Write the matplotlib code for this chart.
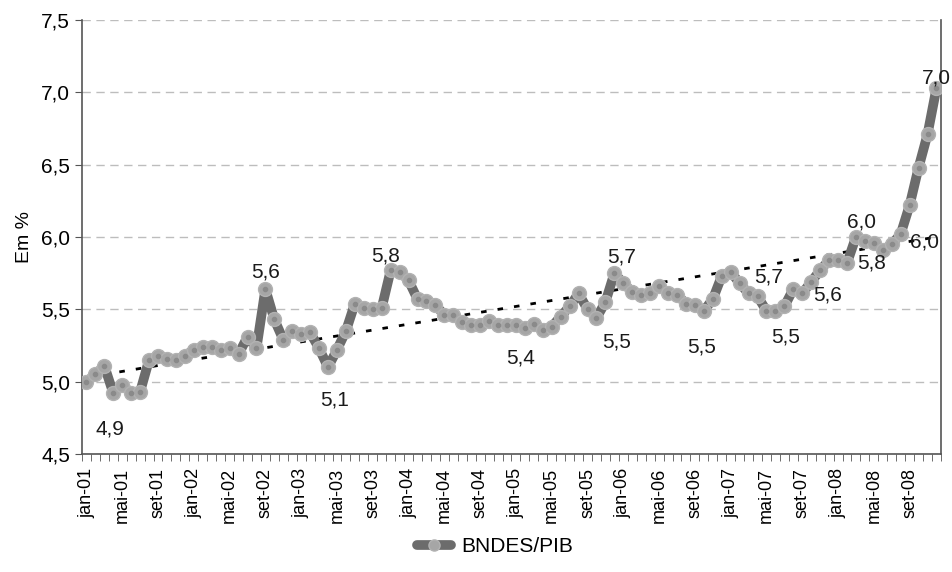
import numpy as np
import matplotlib
matplotlib.use("Agg")
import matplotlib.pyplot as plt
from matplotlib.ticker import FuncFormatter, MultipleLocator

plt.rcParams['font.family'] = ['Liberation Sans', 'DejaVu Sans']

# meses em portugues
meses = ['jan', 'fev', 'mar', 'abr', 'mai', 'jun', 'jul', 'ago', 'set', 'out', 'nov', 'dez']
anos = ['01', '02', '03', '04', '05', '06', '07', '08']
categorias = [m + '-' + a for a in anos for m in meses]

# BNDES/PIB, em %, jan-01 .. dez-08
bndes_pib = [
    5.00, 5.05, 5.11, 4.92, 4.98, 4.92, 4.93, 5.15, 5.18, 5.16, 5.15, 5.18,
    5.22, 5.24, 5.24, 5.22, 5.23, 5.19, 5.31, 5.23, 5.64, 5.43, 5.29, 5.35,
    5.33, 5.34, 5.23, 5.10, 5.22, 5.35, 5.54, 5.51, 5.50, 5.51, 5.77, 5.76,
    5.70, 5.57, 5.56, 5.53, 5.46, 5.46, 5.41, 5.39, 5.39, 5.42, 5.39, 5.39,
    5.39, 5.37, 5.40, 5.36, 5.38, 5.45, 5.52, 5.61, 5.50, 5.44, 5.55, 5.75,
    5.68, 5.62, 5.60, 5.61, 5.66, 5.61, 5.60, 5.54, 5.53, 5.49, 5.57, 5.73,
    5.76, 5.68, 5.61, 5.59, 5.49, 5.49, 5.52, 5.64, 5.61, 5.69, 5.77, 5.84,
    5.84, 5.82, 6.00, 5.97, 5.96, 5.91, 5.95, 6.02, 6.22, 6.48, 6.71, 7.03,
]

# tendencia linear (inicio, fim)
tendencia = [5.03, 6.00]

# rotulos de dados: indice, texto
rot_idx = [5, 20, 27, 34, 48, 58, 59, 69, 76, 77, 82, 86, 88, 91, 95]
rot_txt = ['4,9', '5,6', '5,1', '5,8', '5,4', '5,5', '5,7', '5,5', '5,7', '5,5', '5,6', '6,0', '5,8', '6,0', '7,0']
# deslocamento do rotulo (pontos)
rot_off = [(-15, -26), (0, 12.5), (5, -23.5), (-3.5, 10), (3, -23.5), (8, -28.5), (5.5, 12), (-1.5, -26),
           (1.5, 24), (7, -19), (5, -17.5), (4, 10.5), (-1.5, -14.5), (17.5, -6), (0, 7.5)]

fig = plt.figure(figsize=(9.52, 5.72), dpi=100)
ax = fig.add_axes([0.0861, 0.2063, 0.9023, 0.7587])

x = np.arange(len(bndes_pib))
ax.plot(x, bndes_pib, color='#6c6c6c', lw=7, solid_capstyle='round', zorder=3,
        marker='o', markersize=10, markerfacecolor='#a6a6a6', markeredgecolor='#b2b2b2',
        markeredgewidth=1, label='BNDES/PIB')
ax.plot(x, bndes_pib, ls='none', marker='o', markersize=3, color='#8a8a8a', zorder=4)

ax.plot([x[0], x[-1]], tendencia, color='black', lw=2, ls=(0, (2, 4)), zorder=2)

for i, t, off in zip(rot_idx, rot_txt, rot_off):
    ax.annotate(t, (x[i], bndes_pib[i]), xytext=off, textcoords='offset points',
                ha='center', va='center', fontsize=15, color='#1a1a1a', zorder=5)

ax.set_xlim(-0.5, len(bndes_pib) - 0.5)
ax.set_ylim(4.5, 7.5)
ax.yaxis.set_major_locator(MultipleLocator(0.5))
ax.yaxis.set_major_formatter(FuncFormatter(lambda v, p: ('%.1f' % v).replace('.', ',')))
ax.grid(axis='y', color='#bdbdbd', ls=(0, (6, 4)), lw=1)
ax.set_axisbelow(True)

ax.set_xticks(x[::4])
ax.set_xticklabels(categorias[::4], rotation=90, fontsize=13)
ax.set_xticks(np.arange(-0.5, len(bndes_pib), 1), minor=True)
ax.tick_params(axis='x', which='major', length=0, pad=10)
ax.tick_params(axis='x', which='minor', length=5, color='#555555', direction='out')
ax.tick_params(axis='y', length=5, color='#555555', labelsize=15)

for s in ['left', 'right', 'bottom']:
    ax.spines[s].set_color('#555555')
    ax.spines[s].set_linewidth(1.2)
ax.spines['top'].set_visible(False)

ax.set_ylabel('Em %', fontsize=14, labelpad=6)

fig.legend(loc='lower center', bbox_to_anchor=(0.52, -0.005), frameon=False, fontsize=15,
           handlelength=1.6, handletextpad=0.5, markerscale=0.8)

fig.savefig('out.png', dpi=100)
